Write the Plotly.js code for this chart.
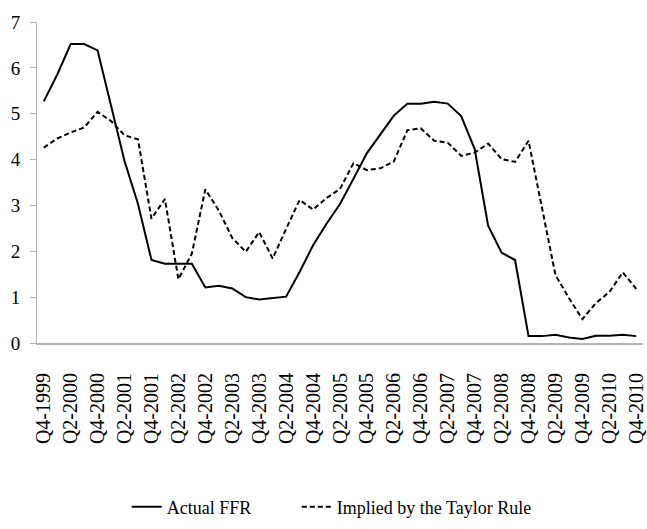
<!DOCTYPE html>
<html>
<head>
<meta charset="utf-8">
<script src="https://cdn.plot.ly/plotly-3.0.1.min.js"></script>
<style>
  html, body { margin: 0; padding: 0; background: #fff; }
  #chart { width: 647px; height: 529px; }
</style>
</head>
<body>
<div id="chart"></div>
<script>
// Quarters from Q4-1999 to Q4-2010
const quarters = [
  "Q4-1999",
  "Q1-2000","Q2-2000","Q3-2000","Q4-2000",
  "Q1-2001","Q2-2001","Q3-2001","Q4-2001",
  "Q1-2002","Q2-2002","Q3-2002","Q4-2002",
  "Q1-2003","Q2-2003","Q3-2003","Q4-2003",
  "Q1-2004","Q2-2004","Q3-2004","Q4-2004",
  "Q1-2005","Q2-2005","Q3-2005","Q4-2005",
  "Q1-2006","Q2-2006","Q3-2006","Q4-2006",
  "Q1-2007","Q2-2007","Q3-2007","Q4-2007",
  "Q1-2008","Q2-2008","Q3-2008","Q4-2008",
  "Q1-2009","Q2-2009","Q3-2009","Q4-2009",
  "Q1-2010","Q2-2010","Q3-2010","Q4-2010"
];

const actualFFR = [
  5.27,
  5.85, 6.52, 6.52, 6.38,
  5.20, 3.97, 3.03, 1.81,
  1.73, 1.73, 1.73, 1.21,
  1.25, 1.19, 1.00, 0.95,
  0.98, 1.01, 1.55, 2.13,
  2.60, 3.03, 3.58, 4.14,
  4.55, 4.96, 5.22, 5.22,
  5.26, 5.22, 4.95, 4.23,
  2.56, 1.97, 1.81, 0.15,
  0.15, 0.18, 0.12, 0.09,
  0.16, 0.16, 0.18, 0.15
];

const taylorRule = [
  4.26,
  4.46, 4.59, 4.70, 5.04,
  4.84, 4.53, 4.44, 2.71,
  3.14, 1.39, 1.95, 3.35,
  2.89, 2.29, 1.99, 2.42,
  1.84, 2.49, 3.12, 2.91,
  3.16, 3.36, 3.92, 3.77,
  3.81, 3.96, 4.64, 4.68,
  4.41, 4.37, 4.08, 4.15,
  4.35, 4.01, 3.95, 4.41,
  2.96, 1.48, 0.98, 0.52,
  0.87, 1.11, 1.54, 1.18
];

// every second quarter labelled
const tickLabels = quarters.filter((q, i) => i % 2 === 0);

const SERIF = "Liberation Serif";

const traces = [
  {
    x: quarters, y: actualFFR, type: "scatter", mode: "lines",
    name: "Actual FFR",
    legend: "legend",
    line: { color: "#000000", width: 2 }
  },
  {
    x: quarters, y: taylorRule, type: "scatter", mode: "lines",
    name: "Implied by the Taylor Rule",
    legend: "legend2",
    line: { color: "#000000", width: 2, dash: "5px,3px" }
  }
];

const legendCommon = {
  orientation: "h",
  xanchor: "left",
  y: -0.511, yanchor: "middle",
  font: { size: 18, family: SERIF, color: "#000000" },
  bgcolor: "rgba(0,0,0,0)"
};

const layout = {
  width: 647, height: 529,
  margin: { l: 37, r: 3.5, t: 22, b: 184 },
  paper_bgcolor: "#ffffff",
  plot_bgcolor: "#ffffff",
  font: { family: SERIF, color: "#000000", size: 17 },
  showlegend: true,
  legend: Object.assign({}, legendCommon, { x: 0.148 }),
  legend2: Object.assign({}, legendCommon, { x: 0.4287 }),
  xaxis: {
    type: "category",
    range: [-0.5, quarters.length - 0.5],
    tickmode: "array",
    tickvals: tickLabels,
    ticktext: tickLabels,
    tickangle: -90,
    ticks: "",
    ticklabelstandoff: 20,
    showgrid: false,
    zeroline: false,
    showline: true,
    linecolor: "#b3b3b3",
    linewidth: 2,
    tickfont: { size: 20, family: SERIF, color: "#000000" },
    automargin: false
  },
  yaxis: {
    range: [0, 7],
    tickvals: [0, 1, 2, 3, 4, 5, 6, 7],
    ticks: "outside",
    ticklen: 6,
    tickcolor: "#b3b3b3",
    tickwidth: 1,
    ticklabelstandoff: 6,
    showgrid: false,
    zeroline: false,
    showline: true,
    linecolor: "#b3b3b3",
    linewidth: 1,
    tickfont: { size: 19, family: SERIF, color: "#000000" },
    automargin: false
  }
};

Plotly.newPlot("chart", traces, layout, { displayModeBar: false, staticPlot: true });
</script>
</body>
</html>
